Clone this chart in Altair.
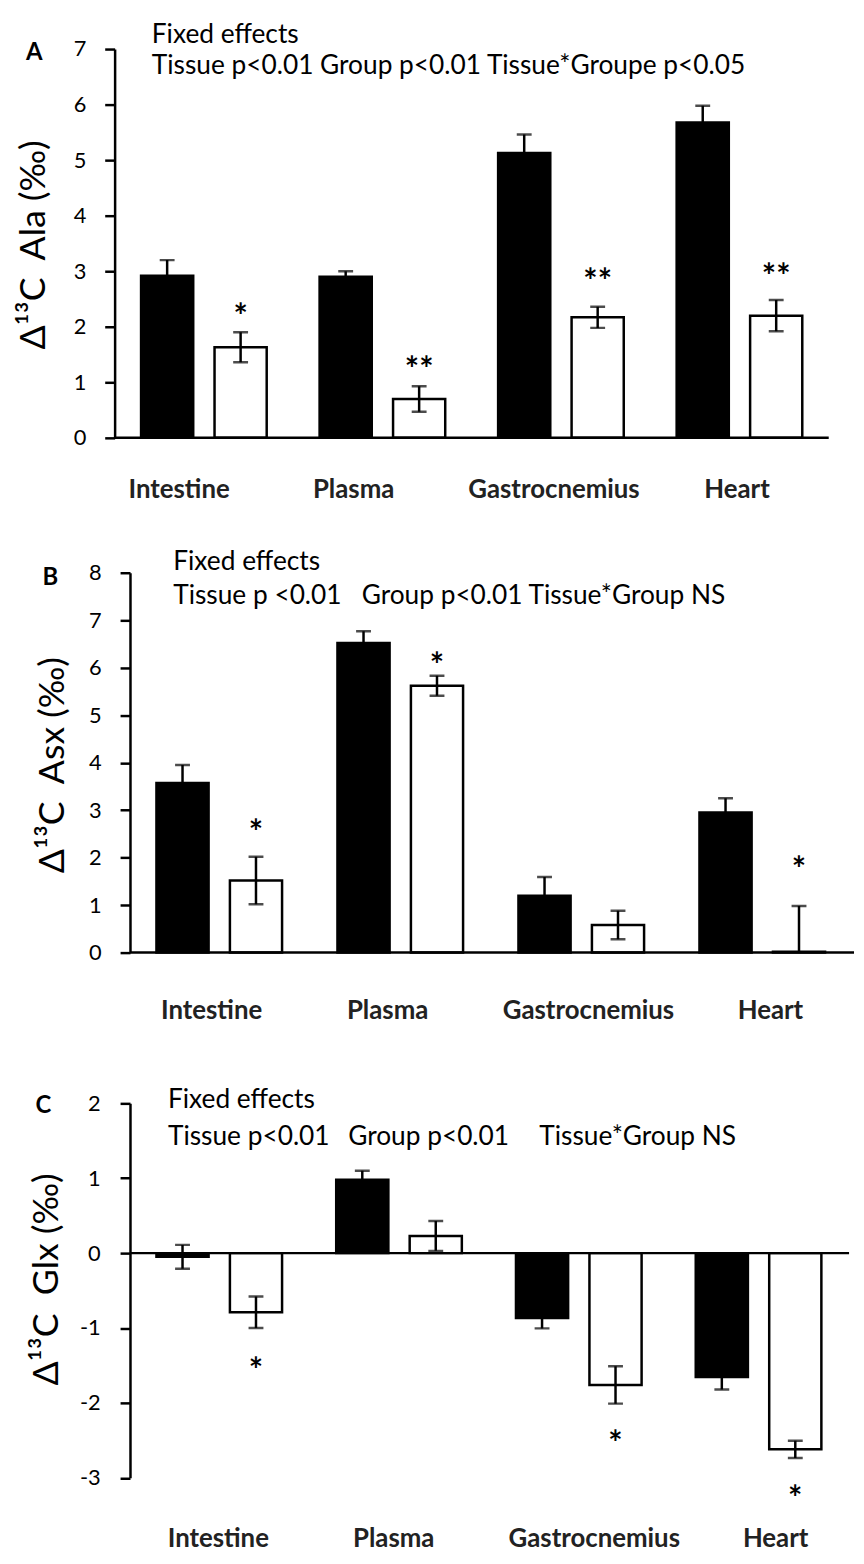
import altair as alt
import pandas as pd

tissues = ["Intestine", "Plasma", "Gastrocnemius", "Heart"]
groups = ["Group 1", "Group 2"]

# Panel A - Ala
a_black = [2.92, 2.90, 5.13, 5.68]
a_black_se = [0.28, 0.10, 0.33, 0.30]
a_white = [1.63, 0.70, 2.17, 2.20]
a_white_se = [0.27, 0.23, 0.19, 0.28]
a_star = ["*", "**", "**", "**"]
a_star_y = [2.33, 1.38, 2.96, 3.06]
a_ticks = [0, 1, 2, 3, 4, 5, 6, 7]

# Panel B - Asx
b_black = [3.57, 6.52, 1.20, 2.95]
b_black_se = [0.38, 0.25, 0.39, 0.30]
b_white = [1.52, 5.62, 0.58, 0.02]
b_white_se = [0.50, 0.21, 0.30, 0.96]
b_star = ["*", "*", "", "*"]
b_star_y = [2.70, 6.23, None, 1.92]
b_ticks = [0, 1, 2, 3, 4, 5, 6, 7, 8]

# Panel C - Glx
c_black = [-0.05, 0.98, -0.865, -1.655]
c_black_se = [0.16, 0.12, 0.14, 0.165]
c_white = [-0.79, 0.23, -1.76, -2.62]
c_white_se = [0.21, 0.20, 0.25, 0.115]
c_star = ["*", "", "*", "*"]
c_star_y = [-1.46, None, -2.43, -3.17]
c_ticks = [-3, -2, -1, 0, 1, 2]

FONT = "Lato"
NB = "\u00a0"


def one():
    return pd.DataFrame({"k": [0]})


def panel(black, black_se, white, white_se, star, star_y, ticks, ytitle, letter, lines, L):
    rows = []
    for i, t in enumerate(tissues):
        rows.append({"tissue": t, "group": groups[0], "value": black[i], "se": black_se[i]})
        rows.append({"tissue": t, "group": groups[1], "value": white[i], "se": white_se[i]})
    df = pd.DataFrame(rows)
    df["lo"] = df["value"] - df["se"]
    df["hi"] = df["value"] + df["se"]
    caps = pd.concat([df.assign(v=df["lo"]), df.assign(v=df["hi"])], ignore_index=True)
    sdf = pd.DataFrame({"tissue": tissues, "group": groups[1], "star": star, "y": star_y})
    sdf = sdf[sdf["star"] != ""].dropna()

    x0 = -L["shift"]
    x1 = x0 + L["w"]
    X = alt.X("tissue:N", scale=alt.Scale(domain=tissues, paddingInner=0, paddingOuter=0,
                                          range=[x0, x1]), axis=None)
    XO = alt.XOffset("group:N", scale=alt.Scale(domain=groups, paddingInner=0.29, paddingOuter=0.36))
    ys = alt.Scale(domain=[ticks[0], ticks[-1]], nice=False)
    yax = alt.Axis(values=ticks, title=ytitle, grid=False, domainColor="black", domainWidth=2.5,
                   tickColor="black", tickWidth=2.5, tickSize=10, labelFont=FONT, labelFontSize=22,
                   labelColor="black", labelPadding=L["lp"], labelExpr="'' + datum.value",
                   offset=L["shift"],
                   titleFont=FONT, titleFontSize=36, titleFontWeight="normal", titleColor="black",
                   titleAngle=270, titleX=L["tx"], titleY=L["ty"], titleAlign="center",
                   titleBaseline="middle")

    def Y(f):
        return alt.Y(f, scale=ys, axis=yax, stack=None)

    bars = alt.Chart(df).mark_bar(stroke="black", strokeWidth=2.5).encode(
        x=X, xOffset=XO, y=Y("value:Q"), y2=alt.datum(0),
        fill=alt.Fill("group:N", scale=alt.Scale(domain=groups, range=["black", "white"]), legend=None))
    zero = alt.Chart(one()).mark_rule(color="black", strokeWidth=2.5).encode(
        y=Y("k:Q"), x=alt.value(x0), x2=alt.value(x1))
    err = alt.Chart(df).mark_rule(color="black", strokeWidth=2.5, clip=True).encode(
        x=X, xOffset=XO, y=Y("lo:Q"), y2="hi:Q")
    cap = alt.Chart(caps).mark_tick(color="black", thickness=2.5, size=15, clip=True).encode(
        x=X, xOffset=XO, y=Y("v:Q"))
    stars = alt.Chart(sdf).mark_text(font=FONT, fontSize=34, fontWeight="bold", baseline="middle",
                                     dy=10, color="black").encode(
        x=X, xOffset=XO, y=Y("y:Q"), text="star:N")
    layers = [bars, zero, err, cap, stars]
    for t, dx in zip(tissues, L["ldx"]):
        layers.append(alt.Chart(pd.DataFrame({"tissue": [t]})).mark_text(
            font=FONT, fontSize=26, fontWeight="bold", baseline="alphabetic", dx=dx, color="#222222"
        ).encode(x=X, y=alt.value(L["ly"]), text="tissue:N"))
    for txt, tx, ty in lines:
        layers.append(alt.Chart(one()).mark_text(
            font=FONT, fontSize=26.5, align="left", baseline="alphabetic", color="black"
        ).encode(x=alt.value(tx), y=alt.value(ty), text=alt.value(txt)))
    layers.append(alt.Chart(one()).mark_text(
        font=FONT, fontSize=24, fontWeight="bold", align="center", baseline="alphabetic", color="black"
    ).encode(x=alt.value(L["lx"]), y=alt.value(L["lyy"]), text=alt.value(letter)))
    layers.append(alt.Chart(one()).mark_rule(color="white", strokeWidth=1).encode(
        x=alt.value(L["hx"]), y=alt.value(L["hy1"]), y2=alt.value(L["hy2"])))
    return alt.layer(*layers).properties(width=L["w"] - L["shift"], height=L["h"])


pa = panel(a_black, a_black_se, a_white, a_white_se, a_star, a_star_y, a_ticks,
           "\u0394\u00b9\u00b3C" + NB + NB + "Ala (\u2030)", "A",
           [("Fixed effects", 22, -6),
            ("Tissue p<0.01 Group p<0.01 Tissue*Groupe p<0.05", 22, 25)],
           dict(w=720, shift=15.5, h=392, lp=19, tx=-81.5, ty=197, ly=453, ldx=[-25, -29, -7, -2.5],
                lx=-96.5, lyy=11, hx=-122, hy1=-34, hy2=478))

pb = panel(b_black, b_black_se, b_white, b_white_se, b_star, b_star_y, b_ticks,
           "\u0394\u00b9\u00b3C" + NB + NB + "Asx (\u2030)", "B",
           [("Fixed effects", 43.6, -3),
            ("Tissue p <0.01", 43.6, 32),
            ("Group p<0.01 Tissue*Group NS", 233.6, 32)],
           dict(w=730, shift=0, h=383, lp=19, tx=-78, ty=193.5, ly=450.3, ldx=[-9, -14, 6, 7],
                lx=-80.4, lyy=12, hx=-122, hy1=-48, hy2=472))

pc = panel(c_black, c_black_se, c_white, c_white_se, c_star, c_star_y, c_ticks,
           "\u0394\u00b9\u00b3C" + NB + NB + "Glx (\u2030)", "C",
           [("Fixed effects", 38.3, 4.5),
            ("Tissue p<0.01", 38.3, 41.5),
            ("Group p<0.01", 220, 41.5),
            ("Tissue*Group NS", 412.7, 41.5)],
           dict(w=725, shift=0, h=377.5, lp=20, tx=-84, ty=177, ly=447, ldx=[-1.6, -6, 15, 16.6],
                lx=-87.4, lyy=9.5, hx=-122, hy1=-61, hy2=400))

chart = alt.vconcat(pa, pb, pc, spacing=0).properties(padding=0).configure_view(stroke=None)
chart.save("out.html", embed_options={"renderer": "svg", "actions": False})
